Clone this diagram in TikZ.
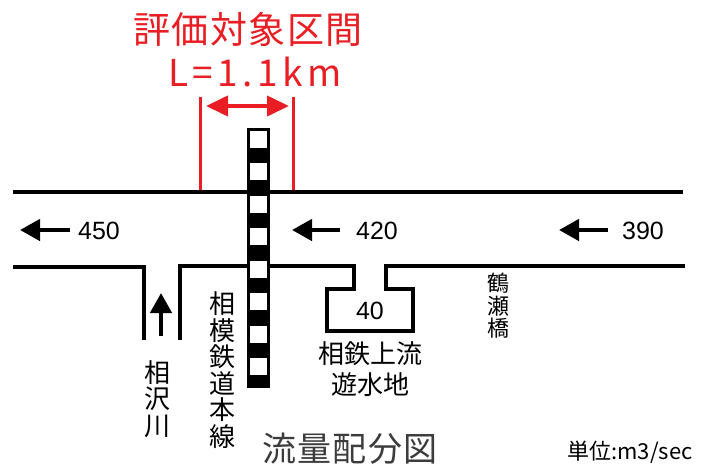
\documentclass[tikz,border=0pt]{standalone}
\usepackage{fontspec}
\newfontfamily\jp{Noto Sans CJK JP}
\newfontfamily\ar{Liberation Sans}
\usetikzlibrary{arrows.meta}
\definecolor{redc}{RGB}{232,30,36}
\definecolor{greyc}{RGB}{60,60,60}
\begin{document}
\begin{tikzpicture}[x=1pt,y=-1pt,
  river/.style={line width=3.5pt, line join=miter},
  redline/.style={draw=redc, line width=3pt},
  flow/.style={line width=4.5pt, -{Triangle[length=20pt,width=21pt]}},
  num/.style={font=\ar\fontsize{25}{25}\selectfont, inner sep=0},
  vtext/.style={font=\jp\fontsize{26}{26.5}\selectfont, align=center, inner sep=0},
  jtext/.style={font=\jp\fontsize{26}{31}\selectfont, align=center, inner sep=0}
]
\useasboundingbox (0,0) rectangle (713,466);
\fill[white] (0,0) rectangle (713,466);

% red title and range
\node[text=redc, inner sep=0, font=\jp\fontsize{37}{37}\selectfont\addfontfeature{LetterSpace=4}] (title) at (248,29) {評価対象区間};
\node[text=redc, inner sep=0, font=\jp\fontsize{37}{37}\selectfont\addfontfeature{LetterSpace=12}] (len) at (255,72) {L=1.1km};
\coordinate (rl1) at (200,97);
\coordinate (rl2) at (200,192);
\coordinate (rr1) at (293,97);
\coordinate (rr2) at (293,192);
\draw[redline] (rl1) -- (rl2);
\draw[redline] (rr1) -- (rr2);
\coordinate (ra) at (206,106);
\coordinate (rb) at (289,106);
\draw[redc, line width=4pt, {Triangle[length=22pt,width=20pt]}-{Triangle[length=22pt,width=20pt]}] (ra) -- (rb);

% river banks
\draw[river] (13,192) -- (683,192);
\draw[river] (13,267) -- (144,267) -- (144,340);
\draw[river] (180,340) -- (180,266) -- (354,266) -- (354,289) -- (327,289) -- (327,331) -- (413,331) -- (413,289) -- (386,289) -- (386,266) -- (685,266);

% railway
\fill[black] (247,128) rectangle (270,388);
\foreach \i in {0,...,7}{
  \fill[white] (250,{130.5+32.5*\i}) rectangle (267,{147.5+32.5*\i});
}

% flow arrows
\coordinate (a1t) at (70,230);  \coordinate (a1h) at (20,230);
\coordinate (a2t) at (340,230); \coordinate (a2h) at (292,230);
\coordinate (a3t) at (608,230); \coordinate (a3h) at (559,230);
\coordinate (a4t) at (161,336); \coordinate (a4h) at (161,293);
\draw[flow] (a1t) -- (a1h);
\draw[flow] (a2t) -- (a2h);
\draw[flow] (a3t) -- (a3h);
\draw[flow] (a4t) -- (a4h);

% numbers
\node[num] (n450) at (99,231) {450};
\node[num] (n420) at (377,231) {420};
\node[num] (n390) at (643,231) {390};
\node[num] (n40) at (370,311) {40};

% labels
\node[vtext] (aizawa) at (157,399) {相\\沢\\川};
\node[vtext] (sotetsu) at (222,370) {相\\模\\鉄\\道\\本\\線};
\node[vtext, font=\jp\fontsize{22}{22.5}\selectfont] (tsuruse) at (498,306) {鶴\\瀬\\橋};
\node[jtext] (pond) at (370,369) {相鉄上流\\遊水地};
\node[text=greyc, inner sep=0, font=\jp\fontsize{34}{34}\selectfont\addfontfeature{LetterSpace=4}] (fig) at (350,449) {流量配分図};
\node[inner sep=0, font=\jp\fontsize{22}{22}\selectfont] (unit) at (630,452) {単位:m3/sec};
\end{tikzpicture}
\end{document}
